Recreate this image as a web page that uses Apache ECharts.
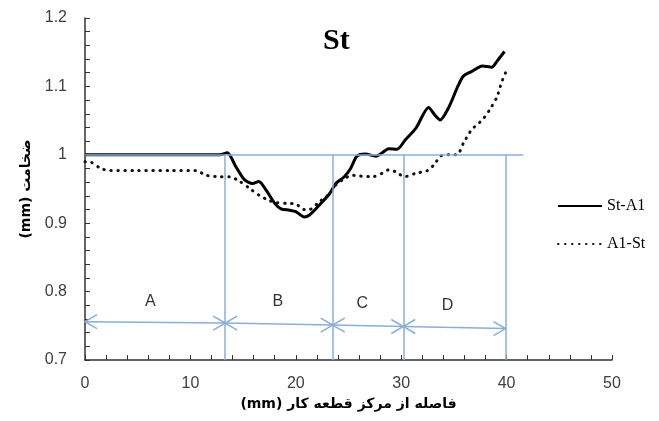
<!DOCTYPE html>
<html>
<head>
<meta charset="utf-8">
<script src="https://cdn.jsdelivr.net/npm/echarts@6/dist/echarts.min.js"></script>
<style>
  html, body { margin: 0; padding: 0; background: #fff; }
  #chart { width: 659px; height: 421px; }
</style>
</head>
<body>
<div id="chart"></div>
<script>
// St-A1 (solid) thickness vs distance
const stAlX = [0, 5, 10, 12.8, 13.5, 14.3, 15.1, 15.9, 16.5, 17.2, 18.0, 18.6, 19.4, 20.0, 20.8, 21.3, 22.2, 23.2, 23.8, 24.6, 25.2, 25.8, 26.6, 27.6, 28.2, 28.8, 29.6, 30.4, 31.4, 32.6, 33.2, 33.7, 34.5, 35.4, 35.9, 36.7, 37.7, 38.6, 39.1, 39.8];
const stAlY = [1.0, 1.0, 1.0, 1.0, 1.003, 0.983, 0.964, 0.958, 0.961, 0.948, 0.929, 0.921, 0.919, 0.917, 0.909, 0.912, 0.926, 0.943, 0.958, 0.968, 0.98, 0.998, 1.001, 0.998, 1.003, 1.009, 1.008, 1.022, 1.039, 1.069, 1.058, 1.051, 1.069, 1.101, 1.115, 1.122, 1.13, 1.128, 1.137, 1.151];

// Al-St (dotted)
const alStX = [0, 0.6, 1.5, 2.4, 5, 8, 10.5, 11.5, 12.8, 13.7, 14.7, 15.6, 16.5, 17.5, 18.2, 19.1, 20.0, 20.8, 21.3, 22.2, 23.2, 23.8, 24.7, 25.4, 26.0, 27.3, 28.2, 28.8, 29.5, 30.3, 31.4, 32.5, 33.2, 33.7, 34.5, 35.3, 35.9, 36.7, 37.7, 38.4, 39.1, 39.5, 39.9];
const alStY = [0.99, 0.989, 0.98, 0.977, 0.977, 0.977, 0.977, 0.97, 0.968, 0.968, 0.961, 0.951, 0.941, 0.933, 0.93, 0.929, 0.928, 0.92, 0.92, 0.931, 0.943, 0.956, 0.966, 0.97, 0.969, 0.968, 0.973, 0.978, 0.975, 0.968, 0.973, 0.977, 0.987, 0.998, 1.0, 1.0, 1.017, 1.037, 1.051, 1.066, 1.085, 1.105, 1.12];

// zones A-D
const zoneNames = ['A', 'B', 'C', 'D'];
const zoneEdges = [0, 13.3, 23.5, 30.2, 39.9];
const zoneArrowY = [0.756, 0.754, 0.751, 0.749, 0.746];
const zoneLabelX = [6.2, 18.3, 26.3, 34.4];
const zoneLabelY = [0.785, 0.785, 0.783, 0.779];
const refLevel = 1.0;
const refLineEnd = 41.6;

const xTicks = [0, 10, 20, 30, 40, 50];
const yTicks = [0.7, 0.8, 0.9, 1.0, 1.1, 1.2];

const seriesNames = ['St-A1', 'A1-St'];

const zip = (xs, ys) => xs.map((x, i) => [x, ys[i]]);

const chart = echarts.init(document.getElementById('chart'));

const blue = '#8aaed8';
const axisColor = '#333';
const labelFont = 'Liberation Sans';

const markLines = zoneEdges.slice(1).map(x => [{ coord: [x, refLevel] }, { coord: [x, yTicks[0]] }]);
markLines.push([{ coord: [0, refLevel] }, { coord: [refLineEnd, refLevel] }]);

const option = {
  animation: false,
  title: {
    text: 'St',
    left: 323,
    top: 26,
    padding: 0,
    textStyle: { fontFamily: 'Liberation Serif', fontWeight: 'bold', fontSize: 30, color: '#000' }
  },
  legend: {
    data: seriesNames,
    orient: 'vertical',
    left: 552,
    top: 193,
    itemWidth: 44,
    itemHeight: 14,
    itemGap: 22,
    itemStyle: { opacity: 0 },
    textStyle: { fontFamily: 'Liberation Serif', fontSize: 16, color: '#000' }
  },
  grid: { left: 85, right: 47, top: 18, bottom: 61 },
  xAxis: {
    type: 'value',
    min: xTicks[0],
    max: xTicks[xTicks.length - 1],
    interval: xTicks[1] - xTicks[0],
    name: '(mm) فاصله از مرکز قطعه کار',
    nameLocation: 'middle',
    nameGap: 33,
    nameTextStyle: { fontFamily: 'DejaVu Sans', fontWeight: 'bold', fontSize: 14, color: '#000' },
    axisLine: { lineStyle: { color: axisColor, width: 1.5 } },
    axisTick: { inside: true, length: 5, lineStyle: { color: axisColor } },
    minorTick: { show: true, splitNumber: 5, length: 5, lineStyle: { color: axisColor } },
    splitLine: { show: false },
    axisLabel: { fontFamily: labelFont, fontSize: 16, color: '#404040', margin: 16 }
  },
  yAxis: {
    type: 'value',
    min: yTicks[0],
    max: yTicks[yTicks.length - 1],
    interval: 0.1,
    name: '(mm) ضخامت',
    nameLocation: 'middle',
    nameRotate: 90,
    nameGap: 48,
    nameTextStyle: { fontFamily: 'DejaVu Sans', fontWeight: 'bold', fontSize: 14, color: '#000' },
    axisLine: { show: true, lineStyle: { color: axisColor, width: 1.5 } },
    axisTick: { show: true, inside: true, length: 5, lineStyle: { color: axisColor } },
    minorTick: { show: true, splitNumber: 5, length: 5, lineStyle: { color: axisColor } },
    splitLine: { show: false },
    axisLabel: { fontFamily: labelFont, fontSize: 16, color: '#404040', margin: 18 }
  },
  series: [
    {
      type: 'custom',
      name: 'zones',
      z: 1,
      silent: true,
      encode: { x: [0, 2], y: [1, 3] },
      data: zoneNames.map((n, i) => [zoneEdges[i], zoneArrowY[i], zoneEdges[i + 1], zoneArrowY[i + 1], zoneLabelX[i], zoneLabelY[i]]),
      renderItem: function (params, api) {
        const p0 = api.coord([api.value(0), api.value(1)]);
        const p1 = api.coord([api.value(2), api.value(3)]);
        const pl = api.coord([api.value(4), api.value(5)]);
        const st = { stroke: blue, lineWidth: 1.5, fill: 'none' };
        return {
          type: 'group',
          children: [
            { type: 'line', shape: { x1: p0[0], y1: p0[1], x2: p1[0], y2: p1[1] }, style: st },
            { type: 'polyline', shape: { points: [[p0[0] + 12, p0[1] - 7], p0, [p0[0] + 12, p0[1] + 7]] }, style: st },
            { type: 'polyline', shape: { points: [[p1[0] - 12, p1[1] - 7], p1, [p1[0] - 12, p1[1] + 7]] }, style: st },
            {
              type: 'text',
              style: {
                text: zoneNames[params.dataIndex], x: pl[0], y: pl[1],
                align: 'center', verticalAlign: 'middle',
                fontFamily: labelFont, fontSize: 16, fill: '#333'
              }
            }
          ]
        };
      },
      markLine: {
        silent: true,
        symbol: 'none',
        label: { show: false },
        lineStyle: { color: blue, width: 1.5, type: 'solid' },
        data: markLines
      }
    },
    {
      name: seriesNames[0],
      type: 'line',
      z: 3,
      smooth: 0.25,
      symbol: 'none',
      lineStyle: { color: '#000', width: 3 },
      itemStyle: { color: '#000' },
      data: zip(stAlX, stAlY)
    },
    {
      name: seriesNames[1],
      type: 'line',
      z: 3,
      smooth: 0.25,
      symbol: 'none',
      lineStyle: { color: '#111', width: 3, type: [0.5, 6.5], cap: 'round' },
      itemStyle: { color: '#111' },
      data: zip(alStX, alStY)
    }
  ]
};

chart.setOption(option);
</script>
</body>
</html>
